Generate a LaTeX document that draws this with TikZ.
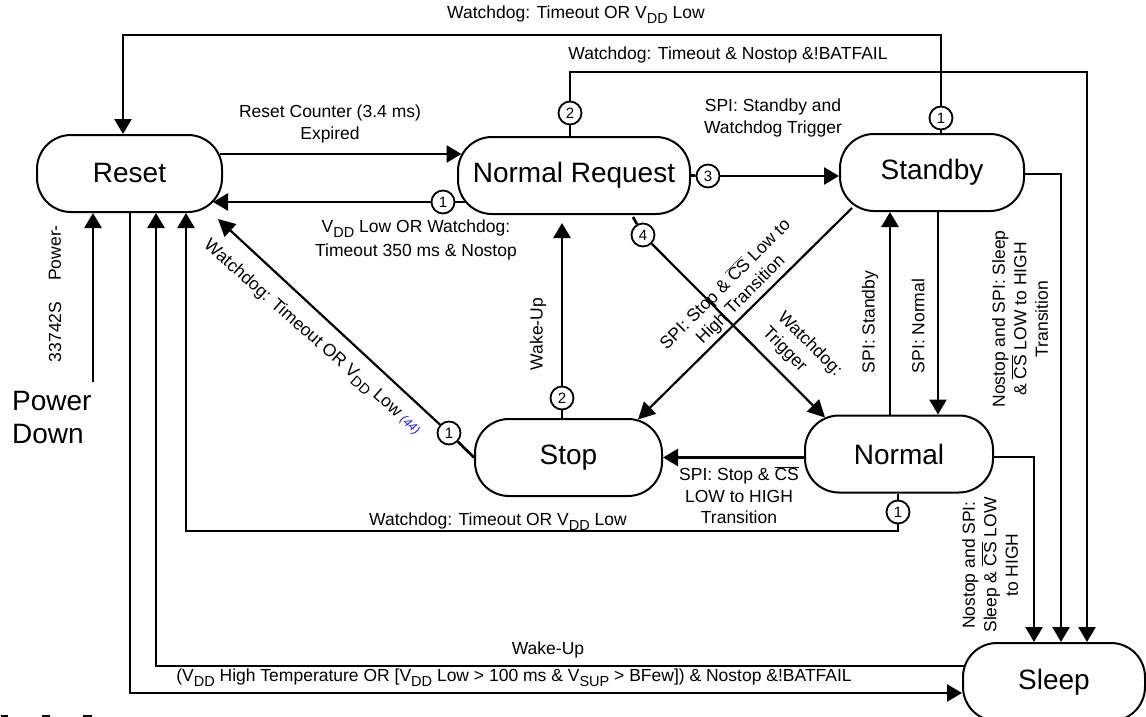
\documentclass[tikz,border=0pt]{standalone}
\usepackage{fontspec}
\setmainfont{Liberation Sans}
\usetikzlibrary{arrows.meta,calc}
\definecolor{refblue}{RGB}{25,25,235}
\newcommand{\lsub}[1]{\raisebox{-0.28em}{\fontsize{14.5}{14.5}\selectfont #1}}
\newcommand{\ovl}[1]{$\overline{\hbox{#1}}$}
\newcommand{\statefont}{\fontsize{28}{33}\selectfont}
\newcommand{\lblfont}{\fontsize{17.5}{21.5}\selectfont}
\newcommand{\numfont}{\fontsize{15}{15}\selectfont}
\begin{document}
\begin{tikzpicture}[x=1pt,y=-1pt,
  stnode/.style={draw, line width=2pt, rounded corners=34pt, minimum height=77pt, font=\statefont, inner sep=0pt},
  conn/.style={line width=2.7pt},
  arr/.style={conn, -{Triangle[length=15pt,width=17pt]}},
  darr/.style={line width=2.2pt, -{Triangle[length=17pt,width=17pt]}},
  num/.style={circle, draw, line width=1.8pt, minimum size=23pt, inner sep=0pt, font=\numfont, fill=white},
  lbl/.style={font=\lblfont, align=center, inner sep=0pt},
]
\fill[white] (0,0) rectangle (1146,717);
\useasboundingbox (0,0) rectangle (1146,717);

% states
\node[stnode, minimum width=185pt] (Reset) at (129.5,173.5) {Reset};
\node[stnode, minimum width=232pt] (NR) at (574,175.5) {Normal Request};
\node[stnode, minimum width=184pt] (Standby) at (932,172.5) {Standby};
\node[stnode, minimum width=187pt] (Stop) at (568.5,457.5) {Stop};
\node[stnode, minimum width=188pt] (Normal) at (899,454) {Normal};
\node[stnode, minimum width=182pt, minimum height=78pt] (Sleep) at (1054,682) {Sleep};

% numbered circles
\node[num] (c1s) at (941,118) {1};
\node[num] (c2n) at (570,113) {2};
\node[num] (c1n) at (443,202) {1};
\node[num] (c3n) at (708,176) {3};
\node[num] (c4n) at (643,235) {4};
\node[num] (c1t) at (449,433) {1};
\node[num] (c2t) at (562,398) {2};
\node[num] (c1m) at (898,512) {1};

% Standby -> Reset (top)
\draw[conn] (Standby.north -| c1s) -- (c1s);
\coordinate (tl) at (123,35);
\draw[arr] (c1s) |- (tl) -- (tl |- Reset.north);

% Normal Request -> Sleep
\draw[conn] (NR.north -| c2n) -- (c2n);
\coordinate (tr) at (1087,72);
\draw[arr] (c2n) |- (tr) -- (tr |- Sleep.north);

% Reset -> Normal Request
\draw[arr] ($(Reset.east)+(-3.5,-19.5)$) -- ($(NR.west)+(4.5,-21.5)$);

% Normal Request -> Reset
\draw[conn] (c1n) -- ($(NR.west)+(8,26.5)$);
\draw[arr] (c1n) -- ($(Reset.east)+(-10,28.5)$);

% Normal Request -> Standby
\draw[conn] (NR.east) -- (c3n);
\draw[arr] (c3n) -- (Standby.west |- c3n);

% Normal Request -> Normal
\draw[conn] ($(NR.south)+(59,2)$) -- (c4n);
\draw[darr] (c4n) -- ($(Normal.north)+(-74,3)$);

% Standby -> Stop
\draw[darr] ($(Standby.south west)+(13,-4)$) -- ($(Stop.north)+(69.5,1.5)$);

% Normal <-> Standby
\draw[arr] ($(Normal.north)+(-9,0)$) -- ($(Standby.south)+(-42,0)$);
\draw[arr] ($(Standby.south)+(6,0)$) -- ($(Normal.north)+(39,0)$);

% Standby -> Sleep, Normal -> Sleep
\draw[arr] ($(Standby.east)+(0,1.5)$) -| ($(Sleep.north)+(7,0)$);
\draw[arr] ($(Normal.east)+(0,3)$) -| ($(Sleep.north)+(-20,0)$);

% Normal -> Stop
\draw[arr] ($(Normal.west)+(0,3.5)$) -- (Stop.east);

% Normal -> Reset
\draw[conn] (Normal.south -| c1m) -- (c1m);
\coordinate (bl) at (186,531);
\draw[arr] (c1m) |- (bl) -- (bl |- Reset.south);

% Stop -> Normal Request
\draw[conn] (Stop.north -| c2t) -- (c2t);
\draw[arr] (c2t) -- ($(NR.south -| c2t)+(0,8)$);

% Stop -> Reset
\draw[conn] (c1t) -- (Stop.west);
\draw[darr] (c1t) -- ($(Reset.south east)+(-5,6)$);

% Sleep -> Reset, Reset -> Sleep
\draw[arr] ($(Sleep.west)+(2,-16)$) -| ($(Reset.south)+(26.5,0)$);
\draw[arr] ($(Reset.south)+(0.5,0)$) |- ($(Sleep.west)+(0,11)$);

% Power down
\coordinate (pd) at (93,382);
\draw[arr] (pd) -- (pd |- Reset.south);

% labels
\node[lbl] (Lt) at (576,15) {Watchdog: Timeout OR V\lsub{DD} Low};
\node[lbl] (Lw) at (728,55) {Watchdog: Timeout \& Nostop \&!BATFAIL};
\node[lbl] (Lrc) at (330,124) {Reset Counter (3.4 ms)\\Expired};
\node[lbl] (Lsw) at (773,118) {SPI: Standby and\\Watchdog Trigger};
\node[lbl] (Lvdd) at (416,240) {V\lsub{DD} Low OR Watchdog:\\[2pt]Timeout 350 ms \& Nostop};
\node[lbl, rotate=90] (Lwu1) at (538,334) {Wake-Up};
\node[lbl, rotate=45] (Lss) at (733,292) {SPI: Stop \& \ovl{CS} Low to\\High Transition};
\node[lbl, rotate=-45, align=left] (Lwt) at (802,352) {Watchdog:\\Trigger};
\node[lbl, rotate=90] (Lsb) at (870,322) {SPI: Standby};
\node[lbl, rotate=90] (Lsn) at (918,326) {SPI: Normal};
\node[lbl, rotate=90] (Lsl1) at (1020,319) {Nostop and SPI: Sleep\\\& \ovl{CS} LOW to HIGH\\Transition};
\node[lbl, rotate=90] (Lsl2) at (990,565) {Nostop and SPI:\\Sleep \& \ovl{CS} LOW\\to HIGH};
\node[lbl] (Lst) at (739,495) {SPI: Stop \& \ovl{CS}\\LOW to HIGH\\Transition};
\node[lbl] (Lnr) at (498,522) {Watchdog: Timeout OR V\lsub{DD} Low};
\node[lbl, rotate=-41.5] (Ldg) at (312,338) {Watchdog: Timeout OR V\lsub{DD} Low \textcolor{refblue}{\fontsize{12}{12}\selectfont\itshape (44)}};
\node[lbl] (Lwu2) at (548,650) {Wake-Up};
\node[lbl] (Lbt) at (514,678) {(V\lsub{DD} High Temperature OR [V\lsub{DD} Low > 100 ms \& V\lsub{SUP} > BFew]) \& Nostop \&!BATFAIL};
\node[lbl, rotate=90] (Lnum) at (55,332) {33742S};
\node[lbl, rotate=90] (Lpw) at (55,253) {Power-};
\node[font=\statefont, align=left, inner sep=0pt, anchor=west] (PD) at (12,418) {Power\\Down};

% cut-off marks at bottom left
\draw[line width=2.5pt] (1,716.5) -- (8,716.5) (42,716.5) -- (50,716.5) (83,716.5) -- (92,716.5);
\end{tikzpicture}
\end{document}
